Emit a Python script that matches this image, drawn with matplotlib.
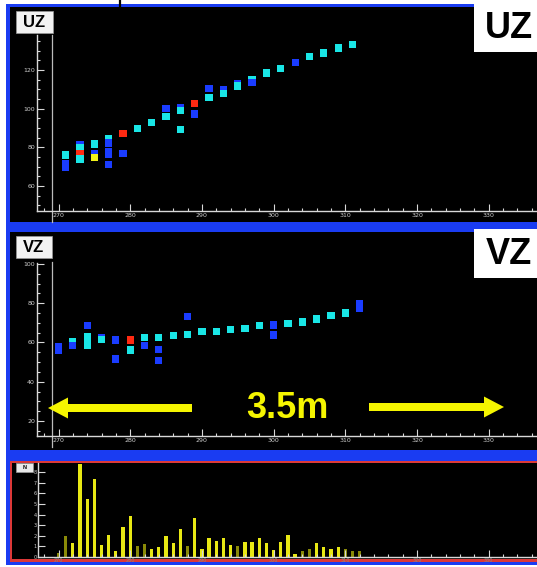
import matplotlib
matplotlib.use("Agg")
import matplotlib.pyplot as plt
from matplotlib.patches import Rectangle, FancyArrow
from matplotlib.ticker import MultipleLocator

W, H = 537, 567

# UZ view: wire position vs z, colour = hit class
uz_x = [271, 271, 271, 273, 273, 273, 273, 275, 275, 275,
        277, 277, 277, 277, 277, 279, 279, 281, 283, 285, 285,
        287, 287, 287, 289, 289, 291, 291, 293, 293, 295, 295,
        297, 297, 299, 301, 303, 305, 307, 309, 311]
uz_y = [76.1, 71.8, 69.8, 81.2, 79.7, 77.0, 74.0, 81.8, 77.0, 74.7,
        84.8, 82.3, 78.0, 76.2, 71.3, 87.3, 77.0, 89.9, 92.8, 100.2, 95.9,
        100.5, 99.0, 89.4, 102.8, 97.3, 110.3, 105.9, 110.0, 108.0, 113.1, 111.7,
        115.3, 113.6, 118.5, 120.7, 124.0, 126.9, 128.8, 131.4, 133.3]
uz_kind = ["c", "b", "b", "b", "c", "r", "c", "c", "b", "y",
           "c", "b", "b", "b", "b", "r", "b", "c", "c", "b", "c",
           "b", "c", "c", "r", "b", "b", "c", "b", "c", "b", "c",
           "c", "b", "c", "c", "b", "c", "c", "c", "c"]

# VZ view
vz_x = [270, 270, 272, 272, 274, 274, 274, 274, 276, 276,
        278, 278, 280, 280, 282, 282, 284, 284, 284, 286,
        288, 288, 290, 292, 294, 296, 298, 300, 300,
        302, 304, 306, 308, 310, 312, 312]
vz_y = [58.0, 56.2, 60.4, 58.4, 68.6, 62.9, 60.8, 58.7, 62.5, 61.6,
        61.3, 51.6, 61.3, 56.2, 62.4, 58.4, 62.4, 56.3, 50.9, 63.6,
        73.3, 64.2, 65.5, 65.5, 66.5, 67.0, 68.6, 68.9, 63.8,
        69.8, 70.4, 72.0, 73.7, 75.0, 79.6, 77.4]
vz_kind = ["b", "b", "c", "b", "b", "c", "c", "c", "b", "c",
           "b", "b", "r", "c", "c", "b", "c", "b", "b", "c",
           "b", "c", "c", "c", "c", "c", "c", "b", "b",
           "c", "c", "c", "c", "c", "b", "b"]

# bottom histogram
bar_x = list(range(270, 313))
bar_h = [0.4, 2.0, 1.3, 8.8, 5.5, 7.4, 1.1, 2.1, 0.6, 2.8,
         3.9, 1.0, 1.2, 0.8, 0.9, 2.0, 1.3, 2.6, 1.0, 3.7,
         0.8, 1.8, 1.5, 1.8, 1.1, 1.0, 1.4, 1.4, 1.8, 1.3,
         0.7, 1.4, 2.1, 0.3, 0.6, 0.8, 1.3, 0.9, 0.8, 0.9,
         0.8, 0.6, 0.6]
bar_tone = "ddbbbbbbbbbddbbbbbdbbbbbbdbbbbbbbbddbbbbddd"

hit_colors = {"c": "#19e6e6", "b": "#1a3cff", "r": "#ff2a12", "y": "#f2f21a"}
tone_colors = {"b": "#e8e814", "d": "#8a8a08"}
BLUE = "#1a3cf2"
AXC = "#d8d8d8"

fig = plt.figure(figsize=(W / 100, H / 100), dpi=100, facecolor="white")

# background in pixel coordinates
bg = fig.add_axes([0, 0, 1, 1], zorder=0)
bg.set_xlim(0, W)
bg.set_ylim(H, 0)
bg.axis("off")
bg.add_patch(Rectangle((6, 4), W - 6, 561, color=BLUE, lw=0))
bg.add_patch(Rectangle((10, 7), W - 10, 215, color="black", lw=0))
bg.add_patch(Rectangle((10, 232), W - 10, 218, color="black", lw=0))
bg.add_patch(Rectangle((10, 461), W - 10, 101, color="#dc3838", lw=0))
bg.add_patch(Rectangle((12, 463), W - 12, 96, color="black", lw=0))
bg.plot([120, 120], [0, 6], color="black", lw=1.6)
bg.plot([52, 52], [35, 222], color="#bbbbbb", lw=0.9)
bg.plot([52, 52], [262, 447], color="#bbbbbb", lw=0.9)


def px_axes(x0, y0, x1, y1):
    return fig.add_axes([x0 / W, 1 - y1 / H, (x1 - x0) / W, (y1 - y0) / H], zorder=2)


def style_axes(ax, ymajor, yminor):
    ax.set_facecolor("none")
    ax.spines[["top", "right"]].set_visible(False)
    for side in ("left", "bottom"):
        ax.spines[side].set_color(AXC)
        ax.spines[side].set_linewidth(1.0)
    ax.xaxis.set_major_locator(MultipleLocator(10))
    ax.xaxis.set_minor_locator(MultipleLocator(2))
    ax.yaxis.set_major_locator(MultipleLocator(ymajor))
    if yminor:
        ax.yaxis.set_minor_locator(MultipleLocator(yminor))
    ax.tick_params(which="both", direction="in", colors=AXC, labelcolor="#cfcfcf",
                   labelsize=4.5, width=0.8)
    ax.tick_params(which="major", length=5, pad=1.5)
    ax.tick_params(which="minor", length=2.5)


x_lo = 270 - 21.5 / 7.17
x_hi = 270 + 478.5 / 7.17

# UZ panel
ax1 = px_axes(37, 35, W, 211)
style_axes(ax1, 20, 5)
ax1.scatter(uz_x, uz_y, c=[hit_colors[k] for k in uz_kind], marker="s", s=27, lw=0)
ax1.set_xlim(x_lo, x_hi)
ax1.set_ylim(47.13, 138.1)

# VZ panel
ax2 = px_axes(37, 263, W, 436)
style_axes(ax2, 20, 5)
ax2.scatter(vz_x, vz_y, c=[hit_colors[k] for k in vz_kind], marker="s", s=27, lw=0)
ax2.set_xlim(x_lo, x_hi)
ax2.set_ylim(12.36, 100.5)

# histogram panel
ax3 = px_axes(38, 463, W, 557)
style_axes(ax3, 1, None)
ax3.bar(bar_x, bar_h, width=0.45, color=[tone_colors[t] for t in bar_tone], lw=0)
ax3.set_xlim(270 - 20.5 / 7.17, x_hi)
ax3.set_ylim(0, 8.87)
ax3.tick_params(labelsize=3.5, pad=1)
ax3.tick_params(axis="x", labelcolor="#888888")

# labels and overlays
small = dict(ha="center", va="center", fontweight="bold", color="black",
             family="Liberation Sans", zorder=3)
bg.add_patch(Rectangle((16, 11), 37, 22, facecolor="#f2f2f2", edgecolor="#999999", lw=0.5, zorder=2))
bg.text(34.5, 22.5, "UZ", fontsize=12, **small)
bg.add_patch(Rectangle((16, 236), 36, 22, facecolor="#f2f2f2", edgecolor="#999999", lw=0.5, zorder=2))
bg.text(34, 247.5, "VZ", fontsize=12, **small)
bg.add_patch(Rectangle((16, 463), 17, 9, facecolor="#e8e8e8", edgecolor="#999999", lw=0.5, zorder=2))
bg.text(24.5, 467.5, "N", fontsize=4, **small)

bg.add_patch(Rectangle((474, 4), W - 474, 48, facecolor="white", lw=0, zorder=2))
bg.text(509, 29, "UZ", fontsize=26, **small)
bg.add_patch(Rectangle((474, 229), W - 474, 49, facecolor="white", lw=0, zorder=2))
bg.text(509, 255, "VZ", fontsize=26, **small)

# 3.5 m span arrows
yel = "#f5f500"
top = fig.add_axes([0, 0, 1, 1], zorder=4)
top.set_xlim(0, W)
top.set_ylim(H, 0)
top.axis("off")
top.add_patch(FancyArrow(192, 408, -144, 0, width=8, head_width=21, head_length=20,
                         length_includes_head=True, color=yel, lw=0))
top.add_patch(FancyArrow(369, 407, 135, 0, width=8, head_width=21, head_length=20,
                         length_includes_head=True, color=yel, lw=0))
top.text(287, 408, "3.5m", fontsize=26, fontweight="bold", color=yel,
         family="Liberation Sans", ha="center", va="center")

fig.savefig("out.png", dpi=100, facecolor="white")
